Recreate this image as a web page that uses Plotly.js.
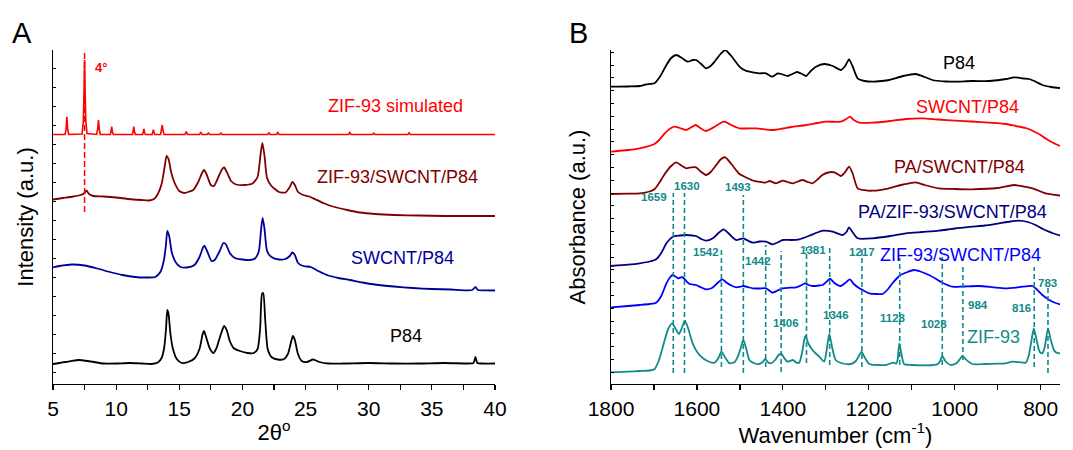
<!DOCTYPE html>
<html><head><meta charset="utf-8">
<script src="https://cdn.plot.ly/plotly-3.0.1.min.js"></script>
<style>html,body{margin:0;padding:0;background:#fff}#chart{width:1073px;height:450px}</style>
</head><body><div id="chart"></div>
<script>
// ---------- Panel A : XRD (2θ, intensity a.u.) ----------
const simX = [5.0,5.95,6.03,6.1,6.17,6.25,7.3,7.4,7.47,7.5,7.53,7.6,7.7,8.45,8.53,8.6,8.67,8.75,9.55,9.6,9.65,9.7,9.78,11.3,11.35,11.4,11.45,11.52,12.1,12.15,12.2,12.25,12.32,12.85,12.9,12.95,13.0,13.07,13.52,13.58,13.65,13.72,13.8,15.45,15.55,15.65,16.6,16.7,16.8,17.2,17.3,17.4,18.2,18.3,18.4,22.0,22.1,22.2,22.7,22.8,22.9,28.4,28.5,28.6,30.3,30.4,30.5,33.1,33.2,33.3,40.0];
const simY = [249.5,249.5,254,267.3,254,249.5,250,262,300,324,300,262,250.5,249.5,254,264,254,249.5,249.5,252.5,257.5,252.5,249.5,249.5,252.5,257.5,252.5,249.5,249.5,251.5,255,251.5,249.5,249.5,251.5,254.3,251.5,249.5,249.5,253,259,253,249.5,249.5,252.5,249.5,249.5,252,249.5,249.5,251,249.5,249.5,250.8,249.5,249.5,251.2,249.5,249.5,251.5,249.5,249.5,251.5,249.5,249.5,250.8,249.5,249.5,251.2,249.5,249.5];

const zspX = [5.0,5.8,6.6,7.2,7.5,7.65,7.85,8.2,9.0,10.0,11.0,12.0,12.6,13.0,13.3,13.6,13.85,14.0,14.15,14.35,14.6,15.0,15.4,15.8,16.1,16.5,16.8,16.95,17.15,17.5,17.75,18.1,18.4,18.55,18.8,19.1,19.5,20.2,20.8,21.2,21.42,21.58,21.75,21.95,22.3,22.9,23.4,23.75,23.95,24.15,24.4,24.8,25.3,25.8,26.5,27.3,28.3,29.3,30.5,32,34,36,38,40];
const zspY = [184.5,186,187.5,189,191,193.5,190,188,187.5,186.5,185,184,183.5,185,190,200,218,228,225,212,202,193,191,192.5,194,202,211,214,210,199,198,207,215,216.5,211,203,199.5,199,200.5,207,228,241,228,206,198,192,191.5,197,202,199,192,189,187.5,184.5,180.5,177,174,171.5,170,169,168.5,168,168,168];

const spX = [5.0,5.5,6.5,7.5,8.5,9.5,10.5,11.5,12.5,13.1,13.5,13.8,13.95,14.05,14.2,14.4,14.7,15.1,15.6,16.2,16.6,16.9,17.0,17.2,17.55,17.8,18.2,18.5,18.7,19.0,19.4,20.0,20.6,21.0,21.3,21.48,21.6,21.75,21.95,22.3,22.9,23.4,23.75,23.95,24.15,24.4,24.8,25.4,26.0,26.8,27.6,28.5,29.5,30.5,32,33.5,35,36.5,38.2,38.45,38.65,39.3,40];
const spY = [116.7,118,119.5,118.5,115.5,112,109,107,106.5,107,112,125,140,153,148,132,122,117,116.5,119,127,137,138,133,123,124,133,141,139.5,131,126,124.5,124,125.5,133,155,166,155,133,127,124.5,125,128,131.5,129,121,118,117,113,108.5,106,104,101.5,99.5,97.5,96,95,94.5,94,97,94,93.7,93.5];

const p84X = [5.0,5.5,6.0,7.0,8.0,9.0,10.0,11.0,12.0,12.8,13.3,13.6,13.8,13.95,14.05,14.15,14.3,14.5,14.8,15.2,15.7,16.2,16.6,16.85,16.95,17.1,17.4,17.7,17.95,18.1,18.3,18.55,18.75,19.0,19.3,19.8,20.4,20.9,21.2,21.4,21.55,21.65,21.8,22.0,22.3,22.8,23.3,23.6,23.85,24.0,24.15,24.4,24.7,25.1,25.6,26.1,26.8,28,30,32,34,36,38.0,38.3,38.45,38.6,39,40];
const p84Y = [20,21,22,24,22.5,20.5,20.5,21,20.5,20,21.5,26,36,55,74,70,50,35,25,21,22,25.5,35,50,53,48,36,31,36,42,50,58,54,43,36,33,31,31,35,55,90,91,65,35,27,24.5,25,30,42,48,44,30,23,22,24.5,22,20.5,20.5,21,20.5,20.5,21,20.5,21,27,21,20.5,20.5];

const markerA = 7.5;               // dashed guide (2θ)
const markerAY = [172, 334];

// ---------- Panel B : FTIR (wavenumber cm-1, absorbance a.u.) ----------
const irP84X = [1800,1760,1733,1718,1699,1685,1671,1660,1648,1635,1621,1610,1602,1590,1579,1568,1559,1545,1534,1520,1501,1490,1478,1455,1439,1425,1412,1400,1389,1378,1367,1355,1346,1335,1323,1304,1284,1265,1255,1246,1238,1226,1210,1191,1170,1153,1120,1091,1070,1052,1020,998,960,920,880,862,840,827,810,796,775,755];
const irP84Y = [297.3,297.5,298,299.7,300.7,308,319,326,329,326,322.3,324,324,320,315.7,318,322.3,330,334,328,317.3,314,312.3,310.7,310.7,307.3,310.7,309.5,308,310,312,310,308,313,317.3,320,318,314,318,324.7,318,305.7,303,302.3,303,304,308,310,307,304,302.5,302.3,303,303,305,306.7,305.5,305,302,299,297,296];

const irSpX = [1800,1760,1733,1699,1688,1675,1660,1652,1640,1625,1612,1603,1592,1579,1560,1545,1536,1520,1501,1462,1424,1400,1380,1346,1320,1300,1265,1252,1244,1235,1222,1191,1150,1114,1075,1040,998,960,920,880,858,835,819,800,789,775,755];
const irSpY = [232.3,234,235.7,240,244,250.7,256,257.3,256,254,257,259,256,253,257,261,262.3,259,255.7,255.7,254,255.5,257,259,261,262.3,262.3,265,267.3,264,261.3,261.3,263,265,265.7,264.5,263.3,262.5,261.3,260,258,256,253.3,249,245.7,242,238];

const irPaSpX = [1800,1760,1733,1710,1699,1688,1675,1660,1648,1635,1625,1613,1602,1590,1579,1568,1555,1545,1534,1520,1501,1489,1470,1458,1440,1431,1416,1400,1389,1377,1365,1354,1342,1331,1318,1308,1295,1280,1265,1255,1246,1238,1226,1210,1191,1153,1120,1091,1070,1037,1000,960,900,862,840,819,800,789,755];
const irPaSpY = [190,190.3,190.7,192.5,194.7,201,210,218,221.7,218,215.7,216.7,216.7,212,209,212,219,224.5,226.7,220,210,207.3,203.5,202.3,201.5,203,200.7,203.3,202,200.7,202.5,204,202,200.7,205,209,211.5,211.7,208,212,217.3,211,195.7,193.8,193.3,195.7,199.5,201.7,199,195.7,195,194.7,196,199,197.5,195.7,192.5,190.7,188.5];

const irPaZspX = [1800,1760,1733,1710,1695,1683,1671,1656,1640,1625,1610,1602,1590,1579,1563,1550,1538,1525,1509,1492,1480,1470,1455,1439,1424,1410,1400,1380,1362,1340,1320,1307,1284,1261,1252,1246,1238,1226,1191,1150,1114,1075,1037,1000,960,930,897,870,851,830,812,795,781,770,755];
const irPaZspY = [118,119.3,120.7,122.5,124.7,131,140.7,147.3,148.5,149,148.5,148,145,143.3,145.7,151,154.7,150,144,145.7,143,141.3,142.5,142.3,139.7,142,144,144,144.7,148,151.5,153.3,152.3,149,152,156.7,152,145.7,145.7,148,150.7,152,153.3,155.5,157.3,158.5,160.7,162.5,163.3,162,159,155,152.3,150.5,148.5];

const irZspX = [1800,1760,1733,1710,1695,1683,1671,1662,1656,1650,1644,1638,1633,1625,1617,1602,1590,1579,1565,1552,1541,1530,1520,1509,1500,1492,1480,1470,1455,1439,1430,1424,1412,1400,1385,1369,1358,1349,1340,1331,1315,1307,1298,1290,1280,1265,1255,1244,1235,1222,1210,1199,1180,1168,1155,1145,1135,1126,1110,1095,1080,1060,1045,1033,1020,1006,980,944,910,882,850,830,819,810,796,780,768,755];
const irZspY = [76.7,78,79,80,81.3,88,100.7,107,109,107.5,105.7,106.5,106.7,103,100,99,96.5,94.7,96,101,104.7,101,98.5,96.7,97.2,98,96.7,95.7,95.5,95.7,93,91.3,93.5,95.7,96.3,96.7,98.5,100.7,99,98,98.5,99,102.5,105.3,101,98,101,104.7,100,95.7,93,90.7,90,90,95,100.7,105.5,109,112,114,112.5,109,105.5,102.3,99.5,97.3,97.5,98,96.7,95.7,96.8,97.8,98,95,89,84,81.5,79.5];

const irZifX = [1800,1760,1733,1710,1699,1690,1682,1675,1667,1658,1650,1642,1636,1628,1620,1610,1598,1586,1570,1559,1550,1543,1535,1524,1512,1505,1498,1492,1485,1478,1465,1455,1447,1441,1434,1428,1418,1410,1404,1397,1389,1377,1368,1362,1355,1348,1340,1331,1322,1315,1304,1298,1292,1285,1277,1260,1242,1230,1222,1217,1210,1199,1180,1160,1150,1142,1136,1133,1129,1124,1118,1100,1075,1050,1040,1034,1029,1022,1009,995,988,982,975,959,930,900,882,866,850,835,828,822,816,810,804,800,795,790,783,777,769,764,755];
const irZifY = [11.7,12.3,13,13.5,14.7,22,33,44,55,60.7,55.5,50,55,63.3,55,40.7,31,25.7,22,21.3,26,32.3,27,20.7,22,27.3,36,44,35,24,20.5,20,22,25,21.5,20.7,24,29,30.7,26,22.3,24,21.3,21.3,32,48,40,34,30,27.3,22.3,34,50,36,24,20.5,20,23,29,32.3,27,20,19,19,20.5,21.3,20.5,24,40.7,30,20,19,18.7,19,19.7,23,28,23,19,21,25,28,25,20,20,20.3,20.7,22.3,21.8,21.3,28,42,55.7,45,34,31,31.3,38,55.7,45,34,31.5,30.5];

// dashed guides (cm-1) and their extents
const guideX   = [1655,1629,1543,1492,1440,1404,1345,1291,1216,1128,1029,981,815,783];
const guideTop = [191,191,137,189,139,133,137,137,136,126,127,119,117,97];
const guideBot = [11,11,17,11,17,12,21,19,17,19,19,24,17,11];

// band labels
const bandText = ["1659","1630","1493","1542","1442","1381","1217","1406","1346","1128","1028","984","816","783"];
const bandX    = [1699,1622,1505,1578,1457,1331,1216,1393,1276,1143,1048,947,845,785];
const bandY    = [187,198,197,132,123,134,132,61,69,66,60,79,76,101];

// curve labels
const labelsA = [
  {t:"ZIF-93 simulated", x:32.1, y:278, c:"#ff0000"},
  {t:"ZIF-93/SWCNT/P84", x:32.3, y:207, c:"#800000"},
  {t:"SWCNT/P84", x:32.7, y:126, c:"#000099"},
  {t:"P84", x:32.95, y:48, c:"#000000"}
];
const labelsB = [
  {t:"P84", x:990, y:321, c:"#000000"},
  {t:"SWCNT/P84", x:971, y:277, c:"#ff0000"},
  {t:"PA/SWCNT/P84", x:990, y:217, c:"#800000"},
  {t:"PA/ZIF-93/SWCNT/P84", x:1005, y:172, c:"#000080"},
  {t:"ZIF-93/SWCNT/P84", x:986, y:129, c:"#0000ff"},
  {t:"ZIF-93", x:909, y:47, c:"#138a8a"}
];

const FONT = "Liberation Sans, Arial, sans-serif";
const TEAL = "#138a8a";

function line(x, y, color, xa, ya, shape, w) {
  return {type:"scatter", mode:"lines", x:x, y:y, xaxis:xa, yaxis:ya,
    line:{color:color, width:w||1.8, shape:shape||"spline", smoothing:0.6},
    hoverinfo:"skip", showlegend:false, cliponaxis:true};
}

const gx = [], gy = [];
guideX.forEach((g,i)=>{ gx.push(g,g,null); gy.push(guideBot[i],guideTop[i],null); });

const traces = [
  line(simX, simY, "#ff0000", "x", "y", "linear", 1.6),
  line(zspX, zspY, "#800000", "x", "y"),
  line(spX, spY, "#000099", "x", "y"),
  line(p84X, p84Y, "#000000", "x", "y"),
  {type:"scatter", mode:"lines", x:[markerA, markerA], y:markerAY, xaxis:"x", yaxis:"y",
   line:{color:"#ff0000", width:1.5, dash:"6px,3px"}, hoverinfo:"skip", showlegend:false},
  line(irP84X, irP84Y, "#000000", "x2", "y2"),
  line(irSpX, irSpY, "#ff0000", "x2", "y2"),
  line(irPaSpX, irPaSpY, "#800000", "x2", "y2"),
  line(irPaZspX, irPaZspY, "#000080", "x2", "y2"),
  line(irZspX, irZspY, "#0000ff", "x2", "y2"),
  line(irZifX, irZifY, TEAL, "x2", "y2"),
  {type:"scatter", mode:"lines", x:gx, y:gy, xaxis:"x2", yaxis:"y2", connectgaps:false,
   line:{color:TEAL, width:1.6, dash:"5px,3px"}, hoverinfo:"skip", showlegend:false}
];

const W = 1073, H = 450;
const domAx = [53/W, 495/W], domBx = [611/W, 1060/W], domY = [1-384/H, 1-50/H];

const baseX = {showgrid:false, zeroline:false, showline:true, linecolor:"#000", linewidth:1.3,
  ticks:"outside", ticklen:5, tickwidth:1.2, tickcolor:"#000",
  tickfont:{family:FONT, size:21, color:"#000"}};
const topX = {showgrid:false, zeroline:false, showline:true, linecolor:"#000", linewidth:1.3,
  ticks:"inside", ticklen:3, tickwidth:1, tickcolor:"#000", showticklabels:false, side:"top"};
const leftY = {showgrid:false, zeroline:false, showline:true, linecolor:"#000", linewidth:1.3,
  ticks:"inside", ticklen:3, tickwidth:1, tickcolor:"#000", showticklabels:false, range:[0,334], tickmode:"linear"};

const layout = {
  width:W, height:H, margin:{l:0,r:0,t:0,b:0}, paper_bgcolor:"#fff", plot_bgcolor:"rgba(0,0,0,0)",
  font:{family:FONT, color:"#000"}, showlegend:false,
  xaxis: Object.assign({}, baseX, {domain:domAx, anchor:"y", range:[5,40], tickmode:"linear", tick0:5, dtick:5,
    minor:{dtick:2.5, ticks:"outside", ticklen:5, tickcolor:"#000"},
    title:{text:"2θ<sup>o</sup>", font:{family:FONT, size:22}, standoff:6}}),
  xaxis3: Object.assign({}, topX, {domain:domAx, anchor:"y", overlaying:"x", range:[5,40], tickmode:"linear", tick0:5, dtick:3.5}),
  yaxis: Object.assign({}, leftY, {domain:domY, anchor:"x", tick0:11.7, dtick:19,
    title:{text:"Intensity (a.u.)", font:{family:FONT, size:22}, standoff:12}}),
  yaxis3: Object.assign({}, leftY, {domain:domY, anchor:"x", overlaying:"y", side:"right", tick0:0.8, dtick:33.3}),
  xaxis2: Object.assign({}, baseX, {domain:domBx, anchor:"y2", range:[1800,755], tickmode:"linear", tick0:800, dtick:200,
    minor:{dtick:100, ticks:"outside", ticklen:5, tickcolor:"#000"},
    title:{text:"Wavenumber (cm<sup>-1</sup>)", font:{family:FONT, size:22}, standoff:6}}),
  xaxis4: Object.assign({}, topX, {domain:domBx, anchor:"y2", overlaying:"x2", range:[1800,755], tickmode:"linear", tick0:1800, dtick:104.5}),
  yaxis2: Object.assign({}, leftY, {domain:domY, anchor:"x2", tick0:11.7, dtick:12.8,
    title:{text:"Absorbance (a.u.)", font:{family:FONT, size:22}, standoff:18}}),
  yaxis4: Object.assign({}, leftY, {domain:domY, anchor:"x2", overlaying:"y2", side:"right", tick0:20.7, dtick:25}),
  annotations: []
};

labelsA.forEach(l=>layout.annotations.push({xref:"x", yref:"y", x:l.x, y:l.y, text:l.t, showarrow:false,
  font:{family:FONT, size:18, color:l.c}, xanchor:"center", yanchor:"middle"}));
labelsB.forEach(l=>layout.annotations.push({xref:"x2", yref:"y2", x:l.x, y:l.y, text:l.t, showarrow:false,
  font:{family:FONT, size:18, color:l.c}, xanchor:"center", yanchor:"middle"}));
bandText.forEach((t,i)=>layout.annotations.push({xref:"x2", yref:"y2", x:bandX[i], y:bandY[i], text:"<b>"+t+"</b>", showarrow:false,
  font:{family:FONT, size:11.5, color:TEAL}, xanchor:"center", yanchor:"middle"}));
layout.annotations.push({xref:"x", yref:"y", x:8.2, y:317, text:"<b>4°</b>", showarrow:false,
  font:{family:FONT, size:13, color:"#ff0000"}, xanchor:"left", yanchor:"middle"});
layout.annotations.push({xref:"paper", yref:"paper", x:22/W, y:1-33/H, text:"A", showarrow:false,
  font:{family:FONT, size:29, color:"#000"}, xanchor:"center", yanchor:"middle"});
layout.annotations.push({xref:"paper", yref:"paper", x:578/W, y:1-33/H, text:"B", showarrow:false,
  font:{family:FONT, size:29, color:"#000"}, xanchor:"center", yanchor:"middle"});

Plotly.newPlot("chart", traces, layout, {staticPlot:true, displayModeBar:false});
</script></body></html>
